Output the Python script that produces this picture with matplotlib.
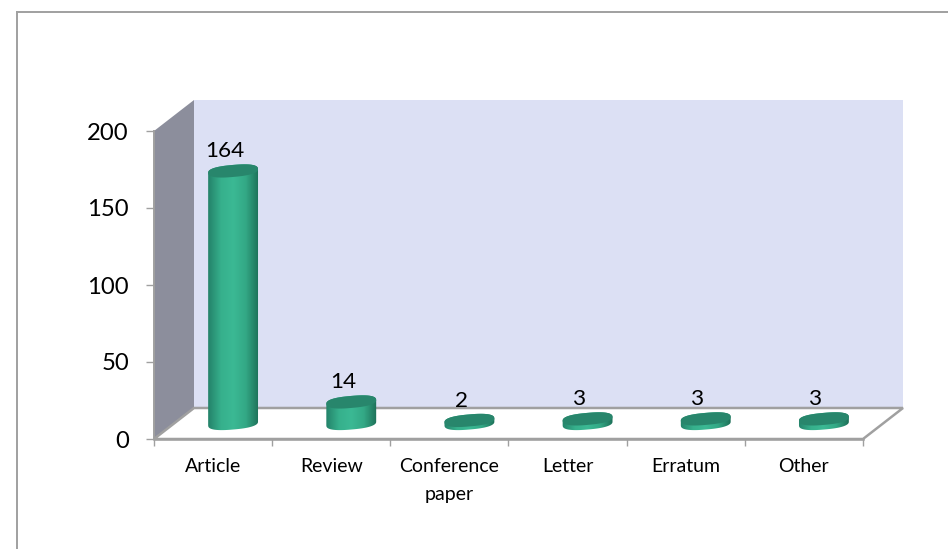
import numpy as np
import matplotlib
matplotlib.use('Agg')
import matplotlib.pyplot as plt
from matplotlib.colors import LinearSegmentedColormap
from matplotlib.lines import Line2D
from matplotlib.patches import Polygon

plt.rcParams['font.family'] = ['Lato', 'DejaVu Sans']

categories = ['Article', 'Review', 'Conference\npaper', 'Letter', 'Erratum', 'Other']
values = [164, 14, 2, 3, 3, 3]
y_ticks = [0, 50, 100, 150, 200]

W, H = 948, 549
LEFT, RIGHT, BOTTOM, TOP = 154, 863, 439, 131
GREY = '#a0a0a0'

fig = plt.figure(figsize=(W / 100, H / 100), dpi=100)
ax = fig.add_axes([LEFT / W, 1 - BOTTOM / H, (RIGHT - LEFT) / W, (BOTTOM - TOP) / H])
ax.set_xlim(-0.5, 5.5)
ax.set_ylim(0, 200)
ax.patch.set_visible(False)

# pixels per data unit
sx = (RIGHT - LEFT) / 6
sy = (BOTTOM - TOP) / 200
dx = 40 / sx
dy = 31 / sy
x0, x1 = -0.5, 5.5

# outer frame, runs off the right and bottom of the picture
for xs, ys in [([17, 17], [12, H + 5]), ([17, W + 5], [12, 12])]:
    fig.add_artist(Line2D([x / W for x in xs], [1 - y / H for y in ys], color=GREY, lw=1.4))

# walls and floor
ax.add_patch(Polygon([(x0 + dx, dy), (x1 + dx, dy), (x1 + dx, 200 + dy), (x0 + dx, 200 + dy)],
                     fc='#dce0f4', ec='none', clip_on=False, zorder=1))
ax.add_patch(Polygon([(x0, 0), (x0 + dx, dy), (x0 + dx, 200 + dy), (x0, 200)],
                     fc='#8c8e9c', ec='none', clip_on=False, zorder=1))
ax.add_patch(Polygon([(x0, 0), (x1, 0), (x1 + dx, dy), (x0 + dx, dy)],
                     fc='white', ec=GREY, lw=1.8, clip_on=False, zorder=2))

cmap = LinearSegmentedColormap.from_list('cyl', [(0, '#24836a'), (0.25, '#36b08c'), (0.5, '#3bb994'),
                                                 (0.75, '#33a885'), (1, '#1e7159')])


def ellipse(cx, cy, start, stop, rx=25.0, ry=6.0, tilt=np.radians(5)):
    t = np.linspace(start, stop, 60)
    # a bit rounder than a true ellipse, like the Excel caps
    c = np.sign(np.cos(t)) * np.abs(np.cos(t)) ** 0.8
    s = np.sign(np.sin(t)) * np.abs(np.sin(t)) ** 0.8
    px = rx * c * np.cos(tilt) - ry * s * np.sin(tilt)
    py = rx * c * np.sin(tilt) + ry * s * np.cos(tilt)
    return np.column_stack([cx + px / sx, cy + py / sy])


base = dy / 2
for i, v in enumerate(values):
    cx = i + dx / 2
    top = base + v
    outline = np.vstack([ellipse(cx, top, -0.05, np.pi - 0.05), ellipse(cx, base, np.pi - 0.05, 2 * np.pi - 0.05)])
    body = Polygon(outline, fc='none', ec='none', clip_on=False, transform=ax.transData, zorder=3)
    ax.add_patch(body)
    im = ax.imshow(np.linspace(0, 1, 64)[None, :], cmap=cmap, aspect='auto', zorder=3,
                   extent=[cx - 25.5 / sx, cx + 25.5 / sx, base - 8 / sy, top + 8 / sy])
    im.set_clip_path(body)
    ax.add_patch(Polygon(ellipse(cx, top, 0, 2 * np.pi), fc='#28866c', ec='none', clip_on=False, zorder=4))
    ax.annotate(str(v), (cx, top), xytext=(-6, 14), textcoords='offset points', ha='center', va='center',
                fontsize=16.2, color='black', zorder=5, annotation_clip=False)

ax.set_xlim(-0.5, 5.5)
ax.set_ylim(0, 200)

for side in ['top', 'right']:
    ax.spines[side].set_visible(False)
ax.spines['left'].set_color(GREY)
ax.spines['bottom'].set_color(GREY)
ax.spines['left'].set_linewidth(1.4)
ax.spines['bottom'].set_linewidth(1.8)
ax.spines['left'].set_zorder(2)
ax.spines['bottom'].set_zorder(2)

ax.set_yticks(y_ticks)
ax.tick_params(axis='y', length=6, width=1, color=GREY, labelsize=17.2, pad=12)
ax.set_xticks(np.arange(-0.5, 6, 1))
ax.set_xticklabels([])
ax.tick_params(axis='x', length=5, width=1, color=GREY)
ax.set_xticks(range(6), categories, minor=True)
ax.tick_params(axis='x', which='minor', length=0, labelsize=14, pad=14)
for lab in ax.get_xticklabels(minor=True):
    lab.set_linespacing(1.75)

fig.savefig('out.png', dpi=100, facecolor='white')
